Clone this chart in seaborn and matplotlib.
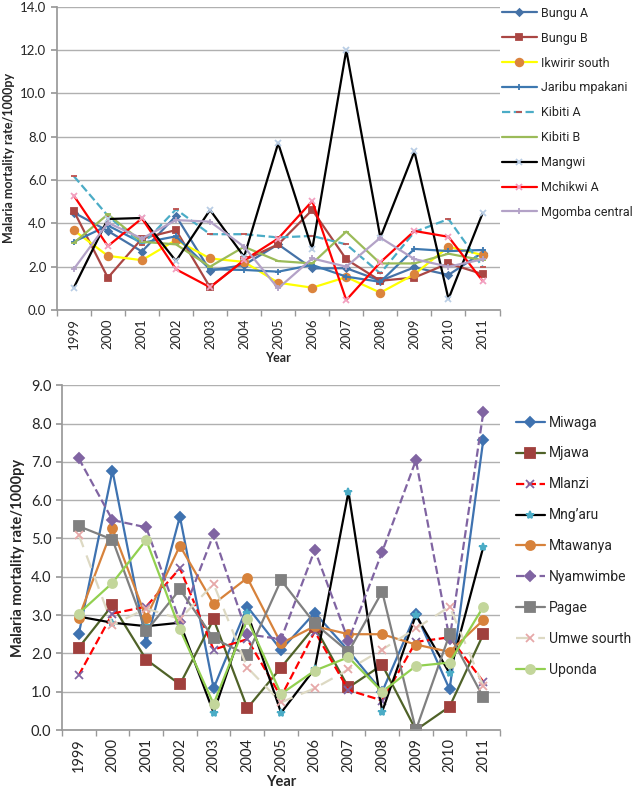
import numpy as np
import pandas as pd
import matplotlib
matplotlib.use("Agg")
import matplotlib.pyplot as plt
import seaborn as sns

years = list(range(1999, 2012))

# top panel
top_names = ["Bungu A", "Bungu B", "Ikwirir south", "Jaribu mpakani", "Kibiti A",
             "Kibiti B", "Mangwi", "Mchikwi A", "Mgomba central"]
bungu_a = [4.50, 3.65, 2.70, 4.34, 1.82, 2.08, 3.03, 1.92, 1.93, 1.35, 1.97, 1.62, 2.65]
bungu_b = [4.57, 1.49, 3.30, 3.69, 1.05, 2.30, 3.03, 4.62, 2.34, 1.35, 1.50, 2.15, 1.66]
ikwirir = [3.68, 2.50, 2.30, 3.23, 2.38, 2.22, 1.26, 1.03, 1.52, 0.80, 1.65, 2.92, 2.54]
jaribu = [3.15, 3.90, 3.10, 3.40, 1.88, 1.85, 1.77, 2.08, 1.54, 1.30, 2.82, 2.72, 2.77]
kibiti_a = [6.18, 4.35, 3.00, 4.65, 3.50, 3.50, 3.35, 3.42, 3.03, 1.69, 3.60, 4.20, 2.00]
kibiti_b = [3.10, 4.42, 3.15, 3.03, 2.00, 2.92, 2.26, 2.15, 3.62, 2.15, 2.15, 2.60, 2.30]
mangwi = [1.03, 4.20, 4.25, 2.26, 4.62, 2.46, 7.70, 2.80, 12.0, 3.34, 7.32, 0.51, 4.46]
mchikwi_a = [5.28, 2.95, 4.23, 1.88, 1.05, 2.30, 3.30, 5.03, 0.46, 2.20, 3.65, 3.38, 1.35]
mgomba = [1.89, 4.03, 3.30, 4.15, 4.08, 2.92, 1.00, 2.38, 2.00, 3.34, 2.35, 2.00, 2.34]
top_values = [bungu_a, bungu_b, ikwirir, jaribu, kibiti_a, kibiti_b, mangwi, mchikwi_a, mgomba]

# bottom panel
bot_names = ["Miwaga", "Mjawa", "Mlanzi", "Mng\u2019aru", "Mtawanya",
             "Nyamwimbe", "Pagae", "Umwe sourth", "Uponda"]
miwaga = [2.50, 6.77, 2.28, 5.57, 1.09, 3.22, 2.09, 3.06, 2.07, 1.00, 3.04, 1.06, 7.58]
mjawa = [2.15, 3.26, 1.84, 1.19, 2.89, 0.57, 1.63, 2.70, 1.11, 1.70, 0.00, 0.61, 2.50]
mlanzi = [1.43, 3.04, 3.22, 4.22, 2.10, 2.37, 0.87, 2.57, 1.04, 0.77, 2.30, 2.42, 1.26]
mngaru = [2.96, 2.80, 2.71, 2.80, 0.45, 3.06, 0.45, 1.60, 6.22, 0.48, 3.00, 1.48, 4.78]
mtawanya = [2.93, 5.26, 2.93, 4.81, 3.29, 3.97, 2.26, 2.71, 2.50, 2.50, 2.23, 2.04, 2.87]
nyamwimbe = [7.09, 5.48, 5.29, 2.83, 5.11, 2.50, 2.37, 4.70, 2.33, 4.65, 7.04, 2.37, 8.29]
pagae = [5.32, 4.97, 2.58, 3.67, 2.39, 1.96, 3.91, 2.78, 2.04, 3.61, 0.00, 2.50, 0.85]
umwe = [5.10, 2.74, 3.17, 2.90, 3.81, 1.63, 0.72, 1.09, 1.58, 2.10, 2.65, 3.22, 1.15]
uponda = [3.04, 3.84, 4.96, 2.63, 0.68, 2.89, 0.94, 1.55, 1.90, 1.00, 1.67, 1.76, 3.22]
bot_values = [miwaga, mjawa, mlanzi, mngaru, mtawanya, nyamwimbe, pagae, umwe, uponda]

top_styles = [
    dict(color="#4572a7", marker="D", ms=3.5, mfc="#4572a7", mec="#4572a7", ls="-"),
    dict(color="#aa4643", marker="s", ms=5, mfc="#aa4643", mec="#aa4643", ls="-"),
    dict(color="#ffff00", marker="o", ms=5.5, mfc="#db843d", mec="#db843d", ls="-"),
    dict(color="#3d78b0", marker="+", ms=5, mfc="#3d78b0", mec="#3d78b0", ls="-"),
    dict(color="#4bacc6", marker="_", ms=4, mfc="#c0504d", mec="#c0504d", ls="--"),
    dict(color="#9bbb59", marker="_", ms=4, mfc="#9bbb59", mec="#9bbb59", ls="-"),
    dict(color="#000000", marker="x", ms=5, mfc="#b9cde5", mec="#b9cde5", ls="-"),
    dict(color="#ff0000", marker="x", ms=5, mfc="#f2a0c0", mec="#f2a0c0", ls="-"),
    dict(color="#b3a2c7", marker="+", ms=5, mfc="#b3a2c7", mec="#b3a2c7", ls="-"),
]
bot_styles = [
    dict(color="#3e72b0", marker="D", ms=5, mfc="#3e72b0", mec="#3e72b0", ls="-"),
    dict(color="#4f6228", marker="s", ms=6.5, mfc="#a0403d", mec="#a0403d", ls="-"),
    dict(color="#ff0000", marker="x", ms=5.5, mfc="#8064a2", mec="#8064a2", ls="--"),
    dict(color="#000000", marker="*", ms=6, mfc="#4bacc6", mec="#4bacc6", ls="-"),
    dict(color="#d7823b", marker="o", ms=6.5, mfc="#d7823b", mec="#d7823b", ls="-"),
    dict(color="#8064a2", marker="D", ms=5, mfc="#8064a2", mec="#8064a2", ls="--"),
    dict(color="#808080", marker="s", ms=6.5, mfc="#808080", mec="#808080", ls="-"),
    dict(color="#ddd9c3", marker="x", ms=5.5, mfc="#e6a8a8", mec="#e6a8a8", ls=(0, (6, 4))),
    dict(color="#92d050", marker="o", ms=6.5, mfc="#c3d69b", mec="#c3d69b", ls="-"),
]

sns.set_theme(style="white")
plt.rcParams["font.family"] = ["Lato", "DejaVu Sans"]
legend_family = ["Roboto", "DejaVu Sans"]

fig = plt.figure(figsize=(6.38, 8.0), dpi=100)
ax1 = fig.add_axes([0.089, 0.6125, 0.694, 0.379])
ax2 = fig.add_axes([0.097, 0.0875, 0.687, 0.431])


def draw(ax, names, values, styles, ymax, ystep, tick_fs, leg_fs, leg_space, lab_fs,
         anchor, handle_len):
    for name, vals, st in zip(names, values, styles):
        df = pd.DataFrame({"Year": years, "rate": vals})
        sns.lineplot(data=df, x="Year", y="rate", ax=ax, label=name, lw=1.6,
                     color=st["color"], linestyle=st["ls"], marker=st["marker"],
                     markersize=st["ms"], markerfacecolor=st["mfc"],
                     markeredgecolor=st["mec"], markeredgewidth=1.3)
    ax.set_xlim(1998.5, 2011.5)
    ax.set_ylim(0, ymax)
    ticks = np.arange(0, ymax + 0.01, ystep)
    ax.set_yticks(ticks)
    ax.set_yticklabels([f"{v:.1f}" for v in ticks], fontsize=tick_fs)
    ax.set_xticks(years)
    ax.set_xticklabels([str(y) for y in years], rotation=90, fontsize=tick_fs)
    ax.set_xticks(np.arange(1998.5, 2012, 1), minor=True)
    ax.tick_params(axis="x", which="major", length=0, pad=6)
    ax.tick_params(axis="x", which="minor", length=4, color="#999999", direction="out", bottom=True)
    ax.tick_params(axis="y", length=4, color="#999999", direction="out", left=True)
    ax.grid(axis="y", color="#b0b0b0", lw=1)
    for s in ["top", "right"]:
        ax.spines[s].set_visible(False)
    for s in ["left", "bottom"]:
        ax.spines[s].set_color("#999999")
    ax.set_xlabel("Year", fontsize=lab_fs, fontweight="bold", labelpad=2)
    ax.set_ylabel("Malaria mortality rate/1000py", fontsize=lab_fs, fontweight="bold")
    ax.legend(loc="upper left", bbox_to_anchor=anchor, frameon=False,
              prop=dict(family=legend_family, size=leg_fs), labelspacing=leg_space,
              handlelength=handle_len, handletextpad=0.3, borderaxespad=0, borderpad=0)


draw(ax1, top_names, top_values, top_styles, 14, 2, 9.5, 9, 0.95, 9, (1.005, 1.0), 2.8)
draw(ax2, bot_names, bot_values, bot_styles, 9, 1, 10.5, 10, 1.22, 10.5, (1.035, 0.912), 2.1)

fig.savefig("out.png", dpi=100)
